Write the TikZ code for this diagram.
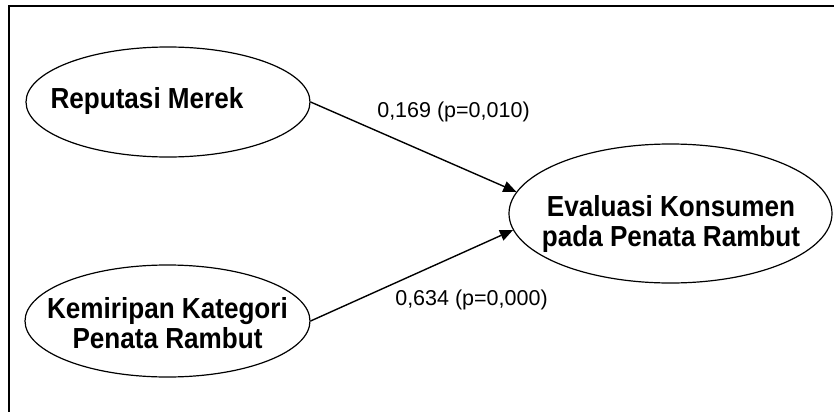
\documentclass[tikz,border=0pt]{standalone}
\usepackage{fontspec}
\setmainfont{Liberation Sans}
\newfontfamily\varfont[FakeStretch=0.9]{Liberation Sans Bold}
\usetikzlibrary{shapes.geometric,arrows.meta}
\begin{document}
\begin{tikzpicture}[x=1pt,y=-1pt,
  varbox/.style={draw,ellipse,line width=1.2pt,inner sep=0pt},
  varlabel/.style={font=\varfont\fontsize{29}{30}\selectfont,align=center,inner sep=0pt},
  coef/.style={font=\fontsize{21.5}{24}\selectfont,inner sep=0pt,anchor=base},
  path/.style={line width=1.4pt,-{Triangle[length=13pt,width=11pt]}}]
\useasboundingbox (0,0) rectangle (834,412);
% open frame: top and left edges only
\coordinate (fc) at (9,6);
\coordinate (fr) at (834,6);
\coordinate (fb) at (9,412);
\draw[line width=2pt] (fr) -- (fc) -- (fb);
% latent variables
\node[varbox,minimum width=284pt,minimum height=110pt] (rep) at (168,102) {};
\node[varbox,minimum width=285pt,minimum height=112pt] (kem) at (167.5,321) {};
\node[varbox,minimum width=323pt,minimum height=139pt] (eval) at (670.5,213.5) {};
% labels: base anchor sits on the last line's baseline
\node[varlabel,anchor=base] (repT) at (147,108) {Reputasi Merek};
\node[varlabel,anchor=base] (kemT) at (167.5,348) {Kemiripan Kategori\\Penata Rambut};
\node[varlabel,anchor=base] (evalT) at (671,246.5) {Evaluasi Konsumen\\pada Penata Rambut};
% structural paths
\draw[path] (rep.east) -- (eval.172.6);
\draw[path] (kem.east) -- (eval.186);
\node[coef] (c1) at (453.5,117) {0,169 (p=0,010)};
\node[coef] (c2) at (471.5,305) {0,634 (p=0,000)};
\end{tikzpicture}
\end{document}
